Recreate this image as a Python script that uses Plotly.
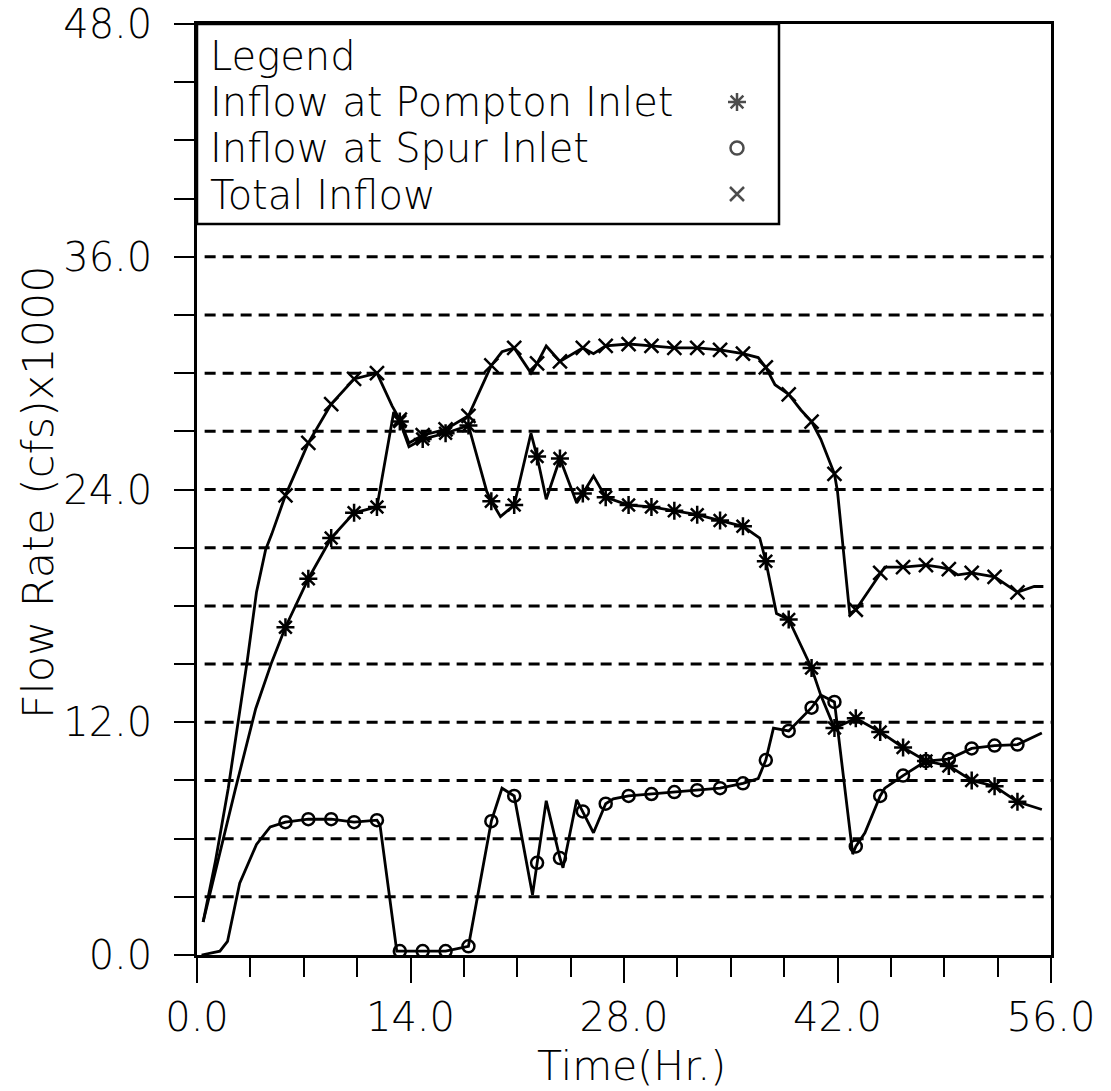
import plotly.graph_objects as go

# ---------------- data ----------------
# polyline vertices
total_t = [0.4, 1.2, 2.05, 2.7, 3.3, 3.9, 4.5, 4.9, 5.8, 7.3, 8.8, 10.3, 11.8, 12.8, 13.3, 13.9,
           14.8, 16.3, 17.8, 18.9, 19.3, 20.0, 20.8, 21.9, 22.3, 22.9, 23.8, 25.3, 26.0, 26.8,
           28.3, 29.8, 31.3, 32.8, 34.3, 35.8, 36.8, 37.3, 37.9, 38.8, 39.6, 40.3, 40.9, 41.8,
           42.0, 42.8, 43.2, 43.8, 44.8, 45.1, 46.3, 47.8, 48.7, 49.3, 49.9, 50.8, 52.3, 53.8,
           54.9, 55.5]
total_v = [1.7, 4.8, 8.6, 12.0, 15.2, 18.7, 20.9, 21.7, 23.7, 26.4, 28.4, 29.7, 30.0, 28.3, 27.6, 26.4,
           26.8, 27.1, 27.8, 29.7, 30.4, 31.1, 31.3, 30.0, 30.5, 31.4, 30.6, 31.3, 31.0, 31.4,
           31.5, 31.4, 31.3, 31.3, 31.2, 31.0, 30.8, 30.3, 29.4, 28.9, 28.1, 27.5, 26.6, 24.8,
           23.9, 17.6, 17.8, 18.5, 19.7, 20.0, 20.0, 20.1, 20.0, 19.9, 19.6, 19.7, 19.5, 18.7,
           19.0, 19.0]

pompton_t = [0.4, 2.5, 3.85, 4.9, 5.8, 7.3, 8.8, 10.3, 11.8, 12.9, 13.3, 13.9, 14.8, 16.3, 17.8,
             19.0, 19.3, 19.9, 20.8, 21.9, 22.3, 22.9, 23.8, 24.9, 25.3, 26.0, 26.8, 28.3, 29.8,
             31.3, 32.8, 34.3, 35.8, 36.9, 37.3, 38.0, 38.8, 40.3, 40.9, 41.8, 43.2, 44.8, 46.3,
             47.8, 49.3, 50.8, 52.3, 53.8, 55.4]
pompton_v = [1.7, 8.5, 12.7, 15.1, 16.9, 19.4, 21.5, 22.8, 23.1, 28.0, 27.5, 26.2, 26.6, 26.9, 27.3,
             23.9, 23.4, 22.6, 23.2, 26.9, 25.7, 23.5, 25.6, 23.3, 23.8, 24.7, 23.6, 23.2, 23.1,
             22.9, 22.7, 22.4, 22.1, 21.5, 20.3, 17.6, 17.3, 14.8, 13.4, 11.7, 12.2, 11.5, 10.7,
             10.0, 9.75, 9.0, 8.7, 7.9, 7.5]

spur_t = [0.3, 1.5, 2.0, 2.8, 3.9, 4.8, 5.8, 7.3, 8.8, 10.3, 11.8, 12.0, 13.1, 13.3, 14.8, 16.3,
          17.8, 19.3, 20.0, 20.8, 22.0, 22.3, 22.9, 23.8, 24.0, 24.9, 25.3, 26.0, 26.8, 27.3,
          28.3, 29.8, 31.3, 32.8, 34.3, 35.8, 36.8, 37.3, 37.8, 38.8, 40.3, 40.9, 41.8, 43.0,
          43.2, 43.8, 44.8, 45.1, 46.3, 47.8, 49.3, 50.8, 52.3, 53.8, 54.8, 55.4]
spur_v = [0.0, 0.2, 0.7, 3.7, 5.7, 6.6, 6.85, 7.0, 7.0, 6.85, 6.95, 6.7, 0.2, 0.2, 0.2, 0.2,
          0.45, 6.9, 8.6, 8.2, 3.1, 4.75, 7.95, 5.0, 4.5, 8.0, 7.4, 6.3, 7.8, 8.05,
          8.2, 8.3, 8.4, 8.5, 8.6, 8.85, 9.1, 10.05, 11.7, 11.55, 12.75, 13.4, 13.05, 5.2,
          5.6, 6.3, 8.2, 8.6, 9.25, 10.0, 10.1, 10.65, 10.8, 10.85, 11.2, 11.45]

# plotted symbols (marker stations)
mark_t = [5.8, 7.3, 8.8, 10.3, 11.8, 13.3, 14.8, 16.3, 17.8, 19.3, 20.8, 22.3, 23.8, 25.3, 26.8,
          28.3, 29.8, 31.3, 32.8, 34.3, 35.8, 37.3, 38.8, 40.3, 41.8, 43.2, 44.8, 46.3, 47.8,
          49.3, 50.8, 52.3, 53.8]
total_mark = [23.7, 26.4, 28.4, 29.7, 30.0, 27.6, 26.8, 27.1, 27.8, 30.4, 31.3, 30.5, 30.6, 31.3, 31.4,
              31.5, 31.4, 31.3, 31.3, 31.2, 31.0, 30.3, 28.9, 27.5, 24.8, 17.8, 19.7, 20.0, 20.1,
              19.9, 19.7, 19.5, 18.7]
pompton_mark = [16.9, 19.4, 21.5, 22.8, 23.1, 27.5, 26.6, 26.9, 27.3, 23.4, 23.2, 25.7, 25.6, 23.8, 23.6,
                23.2, 23.1, 22.9, 22.7, 22.4, 22.1, 20.3, 17.3, 14.8, 11.7, 12.2, 11.5, 10.7, 10.0,
                9.75, 9.0, 8.7, 7.9]
spur_mark = [6.85, 7.0, 7.0, 6.85, 6.95, 0.2, 0.2, 0.2, 0.45, 6.9, 8.2, 4.75, 5.0, 7.4, 7.8,
             8.2, 8.3, 8.4, 8.5, 8.6, 8.85, 10.05, 11.55, 12.75, 13.05, 5.6, 8.2, 9.25, 10.0,
             10.1, 10.65, 10.8, 10.85]

grid_y = [3, 6, 9, 12, 15, 18, 21, 24, 27, 30, 33, 36]

legend_title = "Legend"
legend_labels = ["Inflow at Pompton Inlet", "Inflow at Spur Inlet", "Total Inflow"]
x_title = "Time(Hr.)"
y_title = "Flow Rate (cfs)x1000"

# ---------------- styling ----------------
FONT = "DejaVu Sans ExtraLight, DejaVu Sans Light, DejaVu Sans, sans-serif"
BLACK = "black"
W, H = 1111, 1091
L, R, T, B = 197, 60, 24, 136
PW, PH = W - L - R, H - T - B


def px_x(px):
    return (px - L) / PW


def px_y(py):
    return (H - B - py) / PH


sym = {"pompton": "asterisk-open", "spur": "circle-open", "total": "x-thin-open"}

fig = go.Figure()

series = [
    (pompton_t, pompton_v, pompton_mark, "pompton", 15),
    (spur_t, spur_v, spur_mark, "spur", 12),
    (total_t, total_v, total_mark, "total", 14),
]
for tt, vv, mm, key, size in series:
    fig.add_trace(go.Scatter(x=tt, y=vv, mode="lines",
                             line=dict(color=BLACK, width=2.8), showlegend=False,
                             hoverinfo="skip"))
    fig.add_trace(go.Scatter(x=mark_t, y=mm, mode="markers",
                             marker=dict(symbol=sym[key], size=size, color=BLACK,
                                         line=dict(color=BLACK, width=2.5)),
                             showlegend=False))

# legend sample symbols on an overlay unit axis
leg_keys = ["pompton", "spur", "total"]
leg_py = [102, 148, 194]
fig.add_trace(go.Scatter(
    x=[px_x(737)] * 3, y=[px_y(p) for p in leg_py], xaxis="x2", yaxis="y2",
    mode="markers",
    marker=dict(symbol=[sym[k] for k in leg_keys], size=[15, 13, 14], color=BLACK,
                line=dict(color=BLACK, width=2.5)),
    showlegend=False, hoverinfo="skip"))

shapes = []
for g in grid_y:
    shapes.append(dict(type="line", xref="x", yref="y", x0=0.5, x1=56, y0=g, y1=g,
                       line=dict(color=BLACK, width=3, dash="11px,7px"), layer="below"))
# legend box
shapes.append(dict(type="rect", xref="paper", yref="paper", x0=0, x1=px_x(779),
                   y0=px_y(224), y1=1, line=dict(color=BLACK, width=2.5),
                   fillcolor="rgba(0,0,0,0)", layer="above"))

annotations = []
for txt, py in zip([legend_title] + legend_labels, [56, 102, 148, 195]):
    annotations.append(dict(text=txt, xref="paper", yref="paper", x=px_x(208), y=px_y(py),
                            xanchor="left", yanchor="middle", showarrow=False,
                            font=dict(family=FONT, size=40, color=BLACK)))
annotations.append(dict(text=x_title, xref="paper", yref="paper", x=px_x(631), y=px_y(1066),
                        xanchor="center", yanchor="middle", showarrow=False,
                        font=dict(family=FONT, size=41, color=BLACK)))
annotations.append(dict(text=y_title, xref="paper", yref="paper", x=px_x(38), y=px_y(492),
                        xanchor="center", yanchor="middle", showarrow=False, textangle=-90,
                        font=dict(family=FONT, size=43, color=BLACK)))

axis_common = dict(showgrid=False, zeroline=False, showline=True, mirror=True,
                   linecolor=BLACK, linewidth=2.5, ticks="outside", tickcolor=BLACK,
                   tickwidth=2, tickformat=".1f", ticklabeloverflow="allow",
                   automargin=False,
                   tickfont=dict(family=FONT, size=40, color=BLACK))

fig.update_layout(
    width=W, height=H,
    margin=dict(l=L, r=R, t=T, b=B),
    paper_bgcolor="white", plot_bgcolor="white",
    xaxis=dict(range=[0, 56], tick0=0, dtick=14, ticklen=25,
               minor=dict(dtick=3.5, ticklen=19, tickwidth=2, tickcolor=BLACK, ticks="outside"),
               **axis_common),
    yaxis=dict(range=[0, 48], tick0=0, dtick=12, ticklen=20, ticklabelstandoff=14,
               minor=dict(dtick=3, ticklen=20, tickwidth=2, tickcolor=BLACK, ticks="outside"),
               **axis_common),
    xaxis2=dict(overlaying="x", range=[0, 1], visible=False, anchor="y2"),
    yaxis2=dict(overlaying="y", range=[0, 1], visible=False, anchor="x2"),
    shapes=shapes, annotations=annotations, showlegend=False,
)

fig.write_html("out.html")
